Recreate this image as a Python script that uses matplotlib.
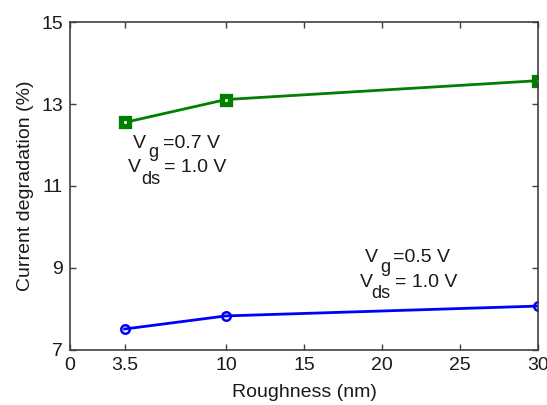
import matplotlib
matplotlib.use("Agg")
import matplotlib.pyplot as plt
from matplotlib.transforms import offset_copy

plt.rcParams['font.family'] = ['Liberation Sans', 'DejaVu Sans']

roughness = [3.5, 10, 30]
deg_vg07 = [12.55, 13.11, 13.57]
deg_vg05 = [7.51, 7.83, 8.07]
xticks = [0, 3.5, 10, 15, 20, 25, 30]
xtick_labels = ['0', '3.5', '10', '15', '20', '25', '30']
yticks = [7, 9, 11, 13, 15]

text_c = '#1a1a1a'
fig = plt.figure(figsize=(5.47, 4.05), dpi=100)
ax = fig.add_axes([0.128, 0.136, 0.8555, 0.8095])

ax.plot(roughness, deg_vg07, color='#008000', lw=2.0, marker='s', ms=5.5,
        mfc='white', mec='#008000', mew=3.8)
ax.plot(roughness, deg_vg05, color='#0000ff', lw=2.0, marker='o', ms=6.1,
        mfc='none', mec='#0000ff', mew=1.8)

ax.set_xlim(0, 30)
ax.set_ylim(7, 15)
ax.set_xticks(xticks)
ax.set_xticklabels(xtick_labels)
ax.set_yticks(yticks)
ax.tick_params(direction='in', top=True, right=True, length=4, width=1,
               labelsize=14, colors='#404040', labelcolor=text_c, pad=5)
for s in ax.spines.values():
    s.set_color('#404040')
    s.set_linewidth(1.2)

ax.set_xlabel('Roughness (nm)', fontsize=14, color=text_c, labelpad=7)
ax.set_ylabel('Current degradation (%)', fontsize=14, color=text_c, labelpad=5)


def bias_label(x, y, sub, rest, sub_dx, sub_drop, rest_dx):
    """Write 'V<sub> rest' with a large, deeply dropped subscript."""
    kw = dict(ha='left', va='baseline', color=text_c)
    ax.text(x, y, 'V', fontsize=14, **kw)
    ax.text(x, y, sub, fontsize=13,
            transform=offset_copy(ax.transData, fig=fig, x=sub_dx, y=-sub_drop, units='dots'), **kw)
    ax.text(x, y, rest, fontsize=14,
            transform=offset_copy(ax.transData, fig=fig, x=rest_dx, y=0, units='dots'), **kw)


bias_label(4.06, 11.93, 'g', '=0.7 V', 14.5, 9.0, 29.5)
bias_label(3.74, 11.35, 'ds', '= 1.0 V', 13.0, 12.5, 35.5)
bias_label(18.91, 9.14, 'g', '=0.5 V', 15.5, 10.0, 28.0)
bias_label(18.59, 8.54, 'ds', '= 1.0 V', 11.5, 11.5, 35.0)

fig.savefig('out.png', dpi=100)
